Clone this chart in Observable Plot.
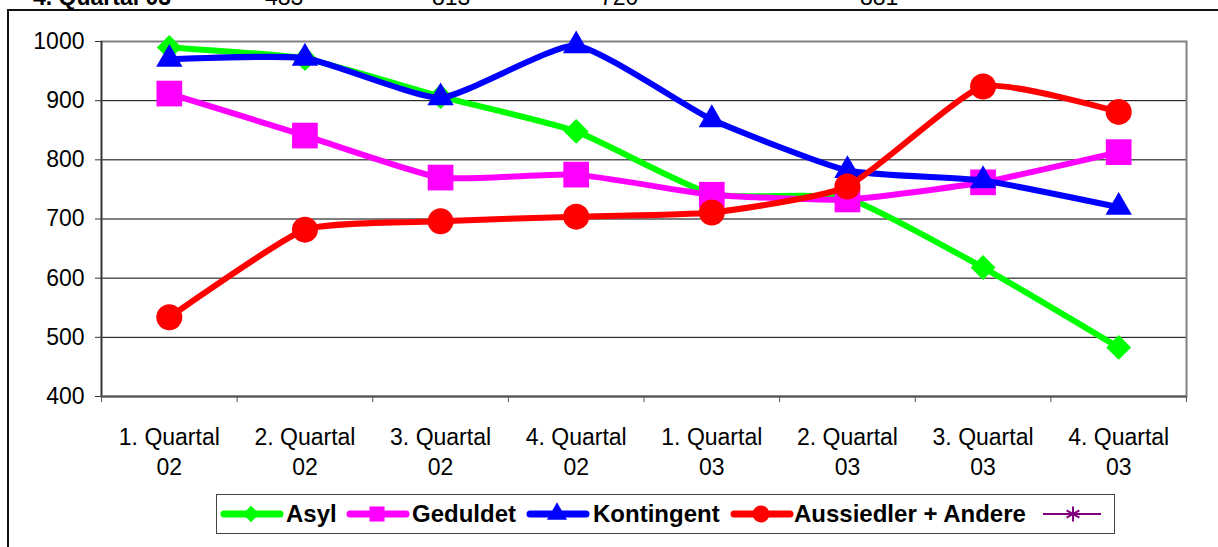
<!DOCTYPE html>
<html><head><meta charset="utf-8">
<script src="https://cdn.jsdelivr.net/npm/d3@7"></script>
<script src="https://cdn.jsdelivr.net/npm/@observablehq/plot@0.6"></script>
<style>
body{margin:0;width:1218px;height:547px;overflow:hidden;background:#fff;font-family:"Liberation Sans",Arial,sans-serif;position:relative}
#frame{position:absolute;left:7px;top:9px;width:1220px;height:560px;border:2px solid #111;box-sizing:border-box}
#toprow{position:absolute;top:-15px;left:0;width:1218px;height:24px;font-size:23px;line-height:24px}
#toprow span{position:absolute;white-space:nowrap}
#chart{position:absolute;left:0;top:0}
#legend{position:absolute;left:216px;top:494px;width:899px;height:40px;border:1.5px solid #444;box-sizing:border-box;background:#fff}
.item{position:absolute;top:0;height:37px}
.item svg{position:absolute;top:6px}
.item span{position:absolute;top:5px;font-weight:bold;font-size:24px;line-height:28px;white-space:nowrap}
</style></head>
<body>
<div id="frame"></div>
<div id="toprow"></div>
<div id="chart"></div>
<div id="legend"></div>
<script>
const quarterLabels = ["1. Quartal","2. Quartal","3. Quartal","4. Quartal","1. Quartal","2. Quartal","3. Quartal","4. Quartal"];
const yearLabels = ["02","02","02","02","03","03","03","03"];
const asyl = [990, 971, 907, 848, 742, 735, 618, 483];
const geduldet = [912, 841, 770, 775, 741, 733, 762, 813];
const kontingent = [970, 972, 905, 993, 868, 782, 765, 720];
const aussiedler = [534, 682, 696, 704, 711, 755, 924, 881];
const seriesNames = ["Asyl","Geduldet","Kontingent","Aussiedler + Andere",""];
const seriesColors = ["#00ff00","#ff00ff","#0000ff","#ff0000","#800080"];
const seriesSymbols = ["diamond2","square","triangle","circle","asterisk"];
const yTicks = [400,500,600,700,800,900,1000];
const topRowText = ["4. Quartal 03","483","813","720","881"];

// layout (pixels) for the cut-off top row and legend
const topRowLeft = [33,265,432,600,860];
const legendSampleLeft = [3,129,309,513,825];
const legendLabelLeft = [69,195,376,577,];
const seriesR = [11.2, 14.5, 9.8, 13, 6];
const legendR = [7.5, 8.5, 7.5, 8.5, 7];

const tr = document.getElementById("toprow");
topRowText.forEach((t,i)=>{const s=document.createElement("span");s.textContent=t;s.style.left=topRowLeft[i]+"px";if(i===0){s.style.fontWeight="bold";}tr.appendChild(s);});

const values = [asyl, geduldet, kontingent, aussiedler];
const idx = quarterLabels.map((_,i)=>i);
const boundaries = d3.range(-0.5, quarterLabels.length, 1);
const labels = idx.map(i=>({i, t: quarterLabels[i]+"\n"+yearLabels[i]}));

const marks = [
  Plot.ruleY(yTicks.filter(v=>v>400 && v<1000), {stroke:"#000", strokeWidth:1}),
  Plot.frame({stroke:"#808080", strokeWidth:2}),
  Plot.ruleX([-0.5], {stroke:"#333", strokeWidth:1.5}),
  Plot.ruleY([400], {stroke:"#555", strokeWidth:2}),
  Plot.axisX({ticks: boundaries, tickSize: 6, tickFormat: () => "", stroke: "#555", label: null}),
  Plot.axisY({ticks: yTicks, tickSize: 6, tickPadding: 11, tickFormat: d => String(d), fontSize: 23, fill: "#000", stroke: "#333", label: null}),
  Plot.text(labels, {x:"i", y:()=>400, text:"t", dy:27, lineAnchor:"top", lineHeight:1.3, fontSize:23, fill:"#000"})
];
values.forEach((vals,s)=>{
  const data = vals.map((v,i)=>({i, v}));
  marks.push(Plot.line(data, {x:"i", y:"v", stroke:seriesColors[s], strokeWidth:6, curve:"cardinal", tension:0.5}));
  marks.push(Plot.dot(data, {x:"i", y:"v", symbol:()=>seriesSymbols[s], r:seriesR[s], fill:seriesColors[s], stroke:"none"}));
});

const chart = Plot.plot({
  width:1218, height:547,
  marginLeft:101, marginRight:32, marginTop:41, marginBottom:151,
  style:{background:"transparent", fontFamily:"'Liberation Sans', Arial, sans-serif", fontSize:"23px", overflow:"visible"},
  x:{domain:[-0.5, quarterLabels.length-0.5]},
  y:{domain:[400,1000]},
  symbol:{type:"identity"},
  marks
});
document.getElementById("chart").appendChild(chart);

// legend
const symMap={diamond2:d3.symbolDiamond2,square:d3.symbolSquare,triangle:d3.symbolTriangle,circle:d3.symbolCircle,asterisk:d3.symbolAsterisk};
const lg = document.getElementById("legend");
seriesNames.forEach((n,s)=>{
  const it=document.createElement("div");it.className="item";it.style.left=legendSampleLeft[s]+"px";
  const svg=d3.create("svg").attr("width",64).attr("height",26);
  const thick = s===4?2:7;
  svg.append("line").attr("x1",s===4?1:4).attr("x2",s===4?59:60).attr("y1",13).attr("y2",13).attr("stroke",seriesColors[s]).attr("stroke-width",thick).attr("stroke-linecap",s===4?"butt":"round");
  const rr=legendR[s];
  svg.append("path").attr("transform","translate(31,13)").attr("d",d3.symbol(symMap[seriesSymbols[s]],Math.PI*rr*rr)()).attr("fill",s===4?"none":seriesColors[s]).attr("stroke",s===4?seriesColors[s]:"none").attr("stroke-width",2);
  it.appendChild(svg.node());
  if(n){const sp=document.createElement("span");sp.textContent=n;sp.style.left=(legendLabelLeft[s]-legendSampleLeft[s])+"px";it.appendChild(sp);}
  lg.appendChild(it);
});
</script>
</body></html>
